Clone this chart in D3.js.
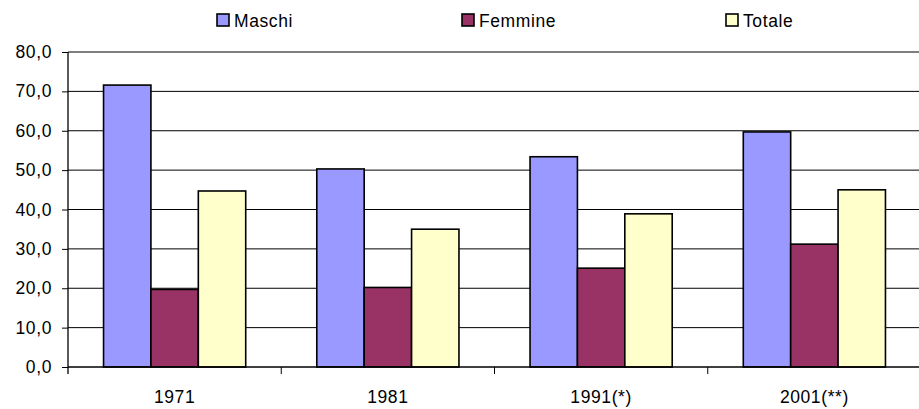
<!DOCTYPE html>
<html>
<head>
<meta charset="utf-8">
<script src="https://cdn.jsdelivr.net/npm/d3@7"></script>
<style>
  body { margin: 0; background: #fff; }
  svg text { font-family: "Liberation Sans", Arial, sans-serif; font-size: 17.5px; letter-spacing: 0.6px; fill: #000; }
</style>
</head>
<body>
<svg class="chart" width="919" height="409"></svg>
<script>
var w = 919;
var h = 409;

// dati
var categories = ["1971", "1981", "1991(*)", "2001(**)"];
var series = ["Maschi", "Femmine", "Totale"];
var maschi = [71.6, 50.3, 53.4, 59.7];
var femmine = [19.7, 20.2, 25.1, 31.2];
var totale = [44.7, 35.0, 38.9, 45.0];
var yTicks = [0, 10, 20, 30, 40, 50, 60, 70, 80];
var colors = ["#9999FF", "#993366", "#FFFFCC"];

var plotLeft = 68, plotRight = 921, plotTop = 52, plotBottom = 367;

var canvas = d3.select(".chart");

var values = [maschi, femmine, totale];
var table = categories.map(function (c, i) {
  return { cat: c, vals: series.map(function (s, j) { return { s: s, v: values[j][i], j: j }; }) };
});

var x0 = d3.scaleBand().domain(categories).range([plotLeft, plotRight]).paddingInner(0).paddingOuter(0);
var x1 = d3.scaleBand().domain(series).range([0, x0.bandwidth()]).paddingInner(0).paddingOuter(0.75);
var yScale = d3.scaleLinear().domain([0, 80]).range([plotBottom, plotTop]);

// griglia
canvas.append("g")
  .selectAll("line")
  .data(yTicks.filter(function (d) { return d > 0; }))
  .join("line")
  .attr("x1", plotLeft)
  .attr("x2", plotRight)
  .attr("y1", function (d) { return yScale(d); })
  .attr("y2", function (d) { return yScale(d); })
  .attr("stroke", "#000")
  .attr("stroke-width", 1);

// barre
var groups = canvas.append("g")
  .selectAll("g")
  .data(table)
  .join("g")
  .attr("transform", function (d) { return "translate(" + x0(d.cat) + ",0)"; });

groups.selectAll("rect")
  .data(function (d) { return d.vals; })
  .join("rect")
  .attr("x", function (d) { return x1(d.s); })
  .attr("width", x1.bandwidth())
  .attr("y", function (d) { return yScale(d.v); })
  .attr("height", function (d) { return yScale(0) - yScale(d.v); })
  .attr("fill", function (d) { return colors[d.j]; })
  .attr("stroke", "#000")
  .attr("stroke-width", 1.6);

// asse y
var yAxis = d3.axisLeft(yScale)
  .tickValues(yTicks)
  .tickSize(6)
  .tickPadding(10)
  .tickFormat(function (d) { return d.toFixed(1).replace(".", ","); });

var gy = canvas.append("g")
  .attr("transform", "translate(" + plotLeft + ",0)")
  .call(yAxis);
gy.select(".domain").remove();
gy.selectAll("line").attr("stroke", "#000");
gy.selectAll("text").attr("font-family", null).attr("font-size", null);

canvas.append("line")
  .attr("x1", plotLeft).attr("x2", plotLeft)
  .attr("y1", plotTop).attr("y2", plotBottom + 7)
  .attr("stroke", "#000").attr("stroke-width", 1.3);

// asse x
var xAxis = d3.axisBottom(x0).tickSize(0).tickPadding(24);
var gx = canvas.append("g")
  .attr("transform", "translate(0," + plotBottom + ")")
  .call(xAxis);
gx.select(".domain").remove();
gx.selectAll("text").attr("font-family", null).attr("font-size", null);

canvas.append("line")
  .attr("x1", plotLeft).attr("x2", plotRight)
  .attr("y1", plotBottom).attr("y2", plotBottom)
  .attr("stroke", "#000").attr("stroke-width", 1.6);

canvas.append("g")
  .selectAll("line")
  .data(categories.slice(1).concat(["end"]))
  .join("line")
  .attr("x1", function (d) { return d == "end" ? plotRight : x0(d); })
  .attr("x2", function (d) { return d == "end" ? plotRight : x0(d); })
  .attr("y1", plotBottom)
  .attr("y2", plotBottom + 7)
  .attr("stroke", "#000");

// legenda
var legendX = [217, 462, 726];
var legend = canvas.append("g")
  .selectAll("g")
  .data(series)
  .join("g")
  .attr("transform", function (d, i) { return "translate(" + legendX[i] + ",14)"; });

legend.append("rect")
  .attr("width", 12)
  .attr("height", 12)
  .attr("fill", function (d, i) { return colors[i]; })
  .attr("stroke", "#000")
  .attr("stroke-width", 1.6);

legend.append("text")
  .attr("x", 17)
  .attr("y", 12.5)
  .text(function (d) { return d; });
</script>
</body>
</html>
